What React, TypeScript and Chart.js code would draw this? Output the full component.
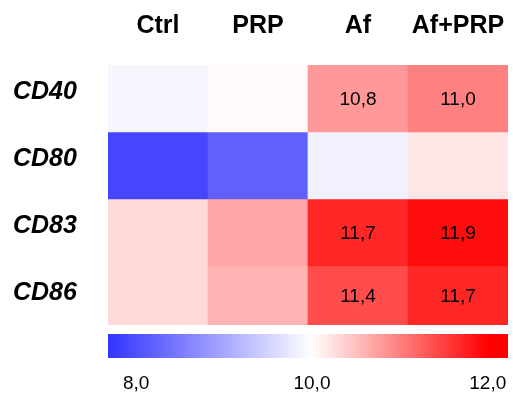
import React, { useEffect, useRef } from 'react';
import { Chart, registerables } from 'chart.js';

Chart.register(...registerables);

const columns = ['Ctrl', 'PRP', 'Af', 'Af+PRP'];
const rows = ['CD40', 'CD80', 'CD83', 'CD86'];
const cd40 = [9.9, 10.05, 10.8, 11.0];
const cd80 = [7.9, 8.2, 9.85, 10.2];
const cd83 = [10.3, 10.7, 11.7, 11.9];
const cd86 = [10.3, 10.6, 11.4, 11.7];
const rowValues = [cd40, cd80, cd83, cd86];
const shownLabels = [
  [false, false, true, true],
  [false, false, false, false],
  [false, false, true, true],
  [false, false, true, true],
];
const scaleTicks = [8, 10, 12];
const scaleMin = 7.68;
const scaleMax = 12.23;
const MID = 10;
const BLUE_SPAN = 2.9;
const RED_SPAN = 2;

const FAMILY = '"Liberation Sans", Arial, Helvetica, sans-serif';

function colorFor(v: number): string {
  if (v < MID) {
    const t = Math.min(1, (MID - v) / BLUE_SPAN);
    const c = Math.round(255 * (1 - t));
    return `rgb(${c},${c},255)`;
  }
  const t = Math.min(1, (v - MID) / RED_SPAN);
  const c = Math.round(255 * (1 - t));
  return `rgb(255,${c},${c})`;
}

const fmt = (v: number) => v.toFixed(1).replace('.', ',');

const noPad = (s: any) => {
  s.paddingLeft = 0;
  s.paddingRight = 0;
  s.paddingTop = 0;
  s.paddingBottom = 0;
};

export default function App() {
  const heatRef = useRef<HTMLCanvasElement | null>(null);
  const barRef = useRef<HTMLCanvasElement | null>(null);

  useEffect(() => {
    const n = rows.length;
    const valuePlugin = {
      id: 'cellValues',
      afterDatasetsDraw(chart: any) {
        const ctx = chart.ctx;
        const area = chart.chartArea;
        ctx.save();
        ctx.font = `19px ${FAMILY}`;
        ctx.fillStyle = '#000';
        ctx.textAlign = 'center';
        ctx.textBaseline = 'middle';
        rows.forEach((_, r) => {
          const meta = chart.getDatasetMeta(r);
          meta.data.forEach((bar: any, c: number) => {
            if (!shownLabels[r][c]) return;
            const top = Math.max(area.top, Math.min(bar.y, bar.base));
            const bottom = Math.min(area.bottom, Math.max(bar.y, bar.base));
            ctx.fillText(fmt(rowValues[r][c]), bar.x, (top + bottom) / 2 + 1);
          });
        });
        ctx.restore();
      },
    };

    const heat = new Chart(heatRef.current as HTMLCanvasElement, {
      type: 'bar',
      data: {
        labels: columns,
        datasets: rows.map((name, r) => ({
          label: name,
          data: rowValues[r].map(() => [n - 1 - r, n - r]),
          backgroundColor: rowValues[r].map(colorFor),
          borderWidth: 0,
          barPercentage: 1,
          categoryPercentage: 1,
          grouped: false,
        })) as any,
      },
      options: {
        animation: false,
        responsive: false,
        layout: { padding: { left: 13, right: 5, top: 0, bottom: 0 } },
        plugins: { legend: { display: false }, tooltip: { enabled: false } },
        scales: {
          x: {
            type: 'category',
            position: 'top',
            grid: { display: false, drawTicks: false },
            border: { display: false },
            ticks: {
              color: '#000',
              font: { family: FAMILY, size: 25, weight: 'bold' },
              padding: 24,
              maxRotation: 0,
              autoSkip: false,
            },
            afterFit: (s: any) => { s.height = 65; noPad(s); },
          },
          y: {
            type: 'linear',
            min: 0.12,
            max: 4,
            grid: { display: false, drawTicks: false },
            border: { display: false },
            afterBuildTicks: (s: any) => {
              s.ticks = rows.map((_, i) => ({ value: i + 0.5 }));
            },
            ticks: {
              color: '#000',
              crossAlign: 'far',
              labelOffset: -6,
              font: { family: FAMILY, size: 25, weight: 'bold', style: 'italic' },
              callback: (v: any) => rows[n - 1 - Math.floor(Number(v))],
            },
            afterFit: (s: any) => { s.width = 95; noPad(s); },
          },
        },
      } as any,
      plugins: [valuePlugin],
    });

    const gradientPlugin = {
      id: 'gradientBar',
      beforeDatasetsDraw(chart: any) {
        const ctx = chart.ctx;
        const area = chart.chartArea;
        const xs = chart.scales.x;
        const g = ctx.createLinearGradient(area.left, 0, area.right, 0);
        const steps = 60;
        for (let i = 0; i <= steps; i++) {
          const px = area.left + ((area.right - area.left) * i) / steps;
          g.addColorStop(i / steps, colorFor(xs.getValueForPixel(px)));
        }
        ctx.save();
        ctx.fillStyle = g;
        ctx.fillRect(area.left, area.top, area.right - area.left, area.bottom - area.top);
        ctx.restore();
      },
    };

    const bar = new Chart(barRef.current as HTMLCanvasElement, {
      type: 'scatter',
      data: { datasets: [] },
      options: {
        animation: false,
        responsive: false,
        layout: { padding: { left: 108, right: 5, top: 0, bottom: 0 } },
        plugins: { legend: { display: false }, tooltip: { enabled: false } },
        scales: {
          x: {
            type: 'linear',
            min: scaleMin,
            max: scaleMax,
            grid: { display: false, drawTicks: false },
            border: { display: false },
            afterBuildTicks: (s: any) => {
              s.ticks = scaleTicks.map((value) => ({ value }));
            },
            ticks: {
              color: '#000',
              font: { family: FAMILY, size: 19 },
              padding: 14,
              maxRotation: 0,
              callback: (v: any) => fmt(Number(v)),
            },
            afterFit: (s: any) => { s.height = 36; noPad(s); },
          },
          y: { display: false },
        },
      } as any,
      plugins: [gradientPlugin],
    });

    return () => {
      heat.destroy();
      bar.destroy();
    };
  }, []);

  return (
    <div style={{ position: 'absolute', left: 0, top: 0, width: 513, height: 394, background: '#fff' }}>
      <canvas ref={heatRef} width={513} height={325} style={{ position: 'absolute', left: 0, top: 0, width: 513, height: 325 }} />
      <canvas ref={barRef} width={513} height={60} style={{ position: 'absolute', left: 0, top: 334, width: 513, height: 60 }} />
    </div>
  );
}
